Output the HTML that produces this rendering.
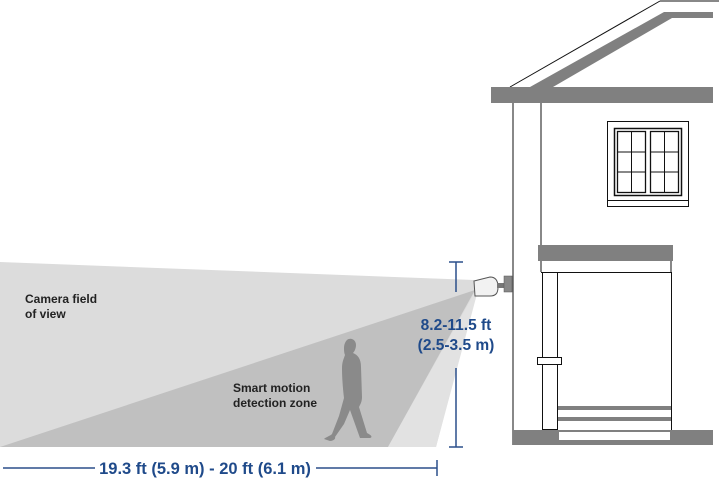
<!DOCTYPE html>
<html><head><style>
html,body{margin:0;padding:0;background:#fff}
svg{display:block}
text{font-family:"Liberation Sans",sans-serif;font-weight:bold}
</style></head><body>
<svg width="719" height="478" viewBox="0 0 719 478" xmlns="http://www.w3.org/2000/svg">
<polygon points="0,262 474,280 476,294 436,447 0,447" fill="#dcdcdc"/>
<polygon points="0,447 475,290 388,447" fill="#c0c0c0"/>
<polygon points="475,292 477,294 436,447 388,447" fill="#e2e2e2"/>
<path d="M347,340 c4,-3 9,0 9,5 c0,4 -2,7 -3,8 c5,2 8,6 8,14 l1,30 c0,5 -2,8 -3,10 l8,26 c4,2 6,4 3,5 l-10,0 l-10,-28 l-6,14 l-9,13 c1,2 -2,4 -5,4 l-6,-2 c2,-2 6,-3 8,-5 l7,-18 l5,-18 c-1,-8 -2,-20 -2,-30 c0,-6 2,-10 3,-13 c-1,-2 -1,-5 -1,-7 c0,-3 1,-6 3,-8 z" fill="#8a8a8a"/>
<text x="25" y="303" font-size="12" fill="#222">Camera field</text>
<text x="25" y="318" font-size="12" fill="#222">of view</text>
<text x="233" y="392" font-size="12" fill="#222">Smart motion</text>
<text x="233" y="407" font-size="12" fill="#222">detection zone</text>
<g stroke="#2b4f8a" stroke-width="1.5" fill="none">
<line x1="456" y1="262" x2="456" y2="292"/>
<line x1="449" y1="262" x2="463" y2="262"/>
<line x1="456" y1="368" x2="456" y2="447"/>
<line x1="449" y1="447" x2="463" y2="447"/>
<line x1="3" y1="468" x2="95" y2="468"/>
<line x1="316" y1="468" x2="437" y2="468"/>
<line x1="437" y1="460" x2="437" y2="476"/>
</g>
<text x="456" y="330" font-size="15.5" fill="#1f4a8a" text-anchor="middle">8.2-11.5 ft</text>
<text x="456" y="350" font-size="15.5" fill="#1f4a8a" text-anchor="middle">(2.5-3.5 m)</text>
<text x="205" y="474" font-size="16.5" fill="#1f4a8a" text-anchor="middle">19.3 ft (5.9 m) - 20 ft (6.1 m)</text>
<g>
<path d="M474,281 l16,-4 c6,0 8,4 8,10 c0,6 -2,9 -8,9 l-15,0 z" fill="#f2f2f2" stroke="#555" stroke-width="1"/>
<rect x="497" y="283" width="8" height="5" fill="#777"/>
<rect x="504" y="276" width="8" height="16" fill="#888" stroke="#555" stroke-width="0.5"/>
</g>
<g stroke="#111" stroke-width="1" fill="none">
<line x1="510" y1="87" x2="660" y2="1"/>
<line x1="660" y1="1" x2="719" y2="1"/>
<line x1="513" y1="103" x2="513" y2="445"/>
<line x1="541" y1="103" x2="541" y2="245"/>
<rect x="607.5" y="121.5" width="81" height="85"/>
<line x1="607" y1="200.5" x2="688" y2="200.5"/>
<rect x="614.5" y="128.5" width="67" height="67" stroke-width="1.5"/>
<rect x="617.5" y="131.5" width="28" height="61" stroke-width="1.3"/>
<rect x="650.5" y="131.5" width="28" height="61" stroke-width="1.3"/>
<line x1="631.5" y1="131" x2="631.5" y2="192"/>
<line x1="664.5" y1="131" x2="664.5" y2="192"/>
<line x1="617" y1="152" x2="645" y2="152"/>
<line x1="617" y1="172" x2="645" y2="172"/>
<line x1="650" y1="152" x2="678" y2="152"/>
<line x1="650" y1="172" x2="678" y2="172"/>
<line x1="541" y1="261" x2="541" y2="272"/>
<line x1="671" y1="261" x2="671" y2="272"/>
<line x1="541" y1="272.5" x2="671" y2="272.5"/>
<rect x="542.5" y="272.5" width="15" height="157"/>
<line x1="671.5" y1="272" x2="671.5" y2="430"/>
<rect x="537.5" y="357.5" width="24" height="7" fill="#fff"/>
</g>
<polygon points="491,87 713,87 713,103 491,103" fill="#808080"/>
<polygon points="530,87 553,87 672,18 713,18 713,12 664,12" fill="#808080"/>
<rect x="538" y="245" width="135" height="16" fill="#808080"/>
<rect x="558" y="406" width="113" height="4" fill="#808080"/>
<rect x="558" y="417" width="113" height="4" fill="#808080"/>
<rect x="513" y="430" width="200" height="15" fill="#808080"/>
<rect x="559" y="432" width="111" height="8" fill="#fff"/>
</svg>
</body></html>
